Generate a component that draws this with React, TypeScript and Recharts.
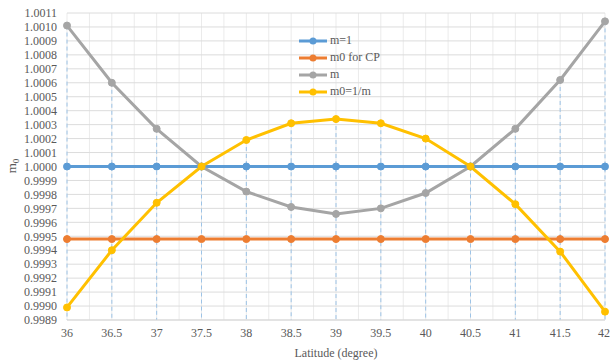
import React from 'react';
import { LineChart, Line, XAxis, YAxis, CartesianGrid, ReferenceLine, Legend } from 'recharts';

const latitudes = [36, 36.5, 37, 37.5, 38, 38.5, 39, 39.5, 40, 40.5, 41, 41.5, 42];
const mOne = [1.0, 1.0, 1.0, 1.0, 1.0, 1.0, 1.0, 1.0, 1.0, 1.0, 1.0, 1.0, 1.0];
const m0ForCP = [0.99948, 0.99948, 0.99948, 0.99948, 0.99948, 0.99948, 0.99948, 0.99948, 0.99948, 0.99948, 0.99948, 0.99948, 0.99948];
const mValues = [1.00101, 1.0006, 1.00027, 1.0, 0.99982, 0.99971, 0.99966, 0.9997, 0.99981, 1.0, 1.00027, 1.00062, 1.00104];
const m0Inverse = [0.99899, 0.9994, 0.99974, 1.0, 1.00019, 1.00031, 1.00034, 1.00031, 1.0002, 1.0, 0.99973, 0.99939, 0.99896];
const yTicks = [
  0.9989, 0.999, 0.9991, 0.9992, 0.9993, 0.9994, 0.9995, 0.9996, 0.9997, 0.9998, 0.9999,
  1.0, 1.0001, 1.0002, 1.0003, 1.0004, 1.0005, 1.0006, 1.0007, 1.0008, 1.0009, 1.001, 1.0011,
];
const yMin = 0.9989;
const yMax = 1.0011;

const seriesNames = ['m=1', 'm0 for CP', 'm', 'm0=1/m'];
const seriesKeys = ['one', 'cp', 'm', 'inv'];
const seriesColors = ['#5B9BD5', '#ED7D31', '#A5A5A5', '#FFC000'];

const data = latitudes.map((lat, i) => ({
  lat,
  one: mOne[i],
  cp: m0ForCP[i],
  m: mValues[i],
  inv: m0Inverse[i],
}));

const FONT = '"Liberation Serif", serif';
const TEXT = '#595959';

const renderLegend = () => (
  <div style={{ fontFamily: FONT, fontSize: 12, color: TEXT }}>
    {seriesNames.map((name, i) => (
      <div key={name} style={{ display: 'flex', alignItems: 'center', height: 17 }}>
        <svg width={30} height={10} style={{ marginRight: 2 }}>
          <line x1={1} y1={5} x2={29} y2={5} stroke={seriesColors[i]} strokeWidth={3} />
          <circle cx={15} cy={5} r={3.5} fill={seriesColors[i]} />
        </svg>
        <span style={{ fontFamily: FONT }}>{name}</span>
      </div>
    ))}
  </div>
);

const YLabel = () => (
  <text
    x={16}
    y={166}
    transform="rotate(-90, 16, 166)"
    textAnchor="middle"
    fontFamily={FONT}
    style={{ fontFamily: FONT }}
    fontSize={13}
    fill={TEXT}
  >
    m<tspan fontSize={9} dy={3}>0</tspan>
  </text>
);

const tickStyle = { fontFamily: FONT, fontSize: 12, fill: TEXT, style: { fontFamily: FONT } };

export default function App() {
  return (
    <div style={{ position: 'absolute', left: 0, top: 0, width: 610, height: 360, background: '#fff', fontFamily: FONT }}>
      <LineChart
        width={610}
        height={360}
        data={data}
        margin={{ top: 13, right: 5, left: 0, bottom: 0 }}
        style={{ fontFamily: FONT }}
      >
        <CartesianGrid
          horizontal={false}
          stroke="#EBEBEB"
          verticalCoordinatesGenerator={({ offset }: any) =>
            Array.from({ length: 25 }, (_, i) => offset.left + (i * offset.width) / 24)
          }
        />
        <CartesianGrid vertical={false} stroke="#DCDCDC" horizontalValues={yTicks} />
        <XAxis
          dataKey="lat"
          type="number"
          domain={[36, 42]}
          ticks={latitudes}
          tickFormatter={(v: number) => String(v)}
          height={40}
          axisLine={{ stroke: '#D9D9D9' }}
          tickLine={false}
          tick={tickStyle}
          label={{ value: 'Latitude (degree)', position: 'insideBottom', offset: 3, fontFamily: FONT, fontSize: 12, fill: TEXT, style: { fontFamily: FONT } }}
        />
        <YAxis
          type="number"
          domain={[yMin, yMax]}
          ticks={yTicks}
          allowDataOverflow
          width={67}
          axisLine={false}
          tickLine={false}
          tickMargin={4}
          interval={0}
          tickFormatter={(v: number) => v.toFixed(4)}
          tick={tickStyle}
          label={<YLabel />}
        />
        {latitudes.map((lat, i) => (
          <ReferenceLine
            key={'drop' + lat}
            segment={[
              { x: lat, y: Math.max(mOne[i], m0ForCP[i], mValues[i], m0Inverse[i]) },
              { x: lat, y: yMin },
            ]}
            stroke="#9DC3E6"
            strokeDasharray="4 3"
            strokeWidth={1}
          />
        ))}
        <Legend
          layout="vertical"
          align="center"
          verticalAlign="middle"
          content={renderLegend}
          wrapperStyle={{ position: 'absolute', left: 298, top: 32, width: 130 }}
        />
        {seriesKeys.map((k, i) => (
          <Line
            key={k}
            dataKey={k}
            name={seriesNames[i]}
            stroke={seriesColors[i]}
            strokeWidth={3}
            dot={{ r: 3.5, fill: seriesColors[i], stroke: seriesColors[i], strokeWidth: 1 }}
            isAnimationActive={false}
          />
        ))}
      </LineChart>
    </div>
  );
}
